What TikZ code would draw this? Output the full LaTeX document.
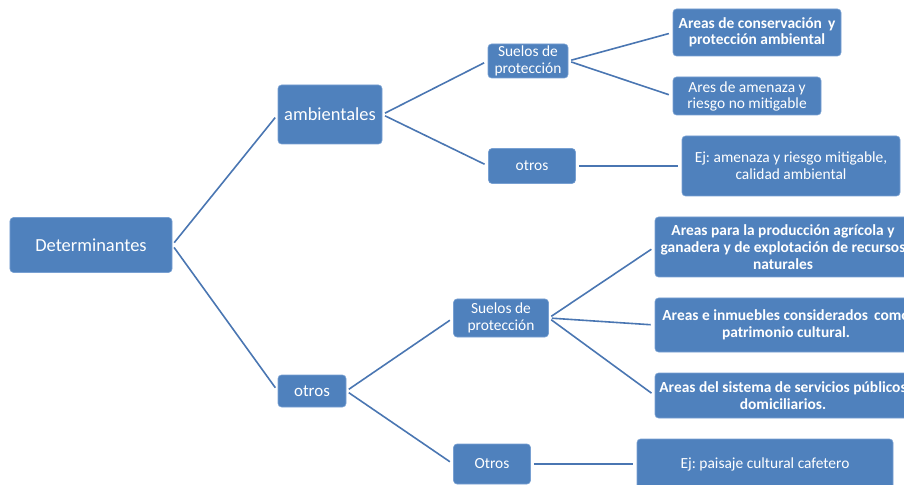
\documentclass[tikz,border=0pt]{standalone}
\usepackage{fontspec}
\setmainfont{Carlito}
\frenchspacing
\definecolor{boxblue}{RGB}{79,129,189}
\definecolor{boxedge}{RGB}{120,160,210}
\definecolor{linkblue}{RGB}{74,118,178}
\begin{document}
\begin{tikzpicture}[x=1bp,y=-1bp,
  box/.style={fill=boxblue,draw=boxedge,line width=0.6bp,rounded corners=3.5bp,text=white,align=center,inner sep=0pt,font=\fontsize{15.5}{17}\selectfont},
  bigbox/.style={box,font=\fontsize{18.5}{21}\selectfont},
  boldbox/.style={box,font=\fontsize{15.5}{17}\selectfont\bfseries},
  link/.style={draw=linkblue,line width=1.6bp,shorten <=3bp,shorten >=4bp}]
\useasboundingbox (0,0) rectangle (904,485);
\clip (0,0) rectangle (904,485);
% level 1
\node[bigbox,minimum width=162bp,minimum height=55bp] (det) at (91,245) {Determinantes};
% level 2
\node[bigbox,minimum width=104bp,minimum height=59bp] (amb) at (330,114.5) {ambientales};
\node[box,font=\fontsize{17}{19}\selectfont,minimum width=68bp,minimum height=32bp] (otr1) at (312,391) {otros};
% level 3
\node[box,minimum width=80bp,minimum height=34bp,font=\fontsize{15.5}{16.5}\selectfont] (sue1) at (528,61) {Suelos de\\protección};
\node[box,minimum width=87bp,minimum height=35bp] (otrA) at (532,166) {otros};
\node[box,minimum width=95bp,minimum height=38bp] (sue2) at (501,318) {Suelos de\\protección};
\node[box,minimum width=77bp,minimum height=40bp] (otrB) at (492,464) {Otros};
% level 4
\node[boldbox,minimum width=168bp,minimum height=47bp,font=\fontsize{15.5}{16.5}\selectfont\bfseries] (r1) at (757,32.5) {Areas de conservación \,y\\protección ambiental};
\node[box,minimum width=148bp,minimum height=38bp,font=\fontsize{15.5}{16}\selectfont] (r2) at (747,96) {Ares de amenaza y\\riesgo no mitigable};
\node[box,minimum width=218bp,minimum height=60bp] (r3) at (791,166) {Ej: amenaza y riesgo mitigable,\\calidad ambiental};
\node[boldbox,minimum width=256bp,minimum height=60bp] (r4) at (783,247) {Areas para la producción agrícola y\\ganadera y de explotación de recursos\\naturales};
\node[boldbox,minimum width=262bp,minimum height=54bp] (r5) at (786,325) {Areas e inmuebles considerados \,como\\patrimonio cultural.};
\node[boldbox,minimum width=256bp,minimum height=45bp] (r6) at (783,395.5) {Areas del sistema de servicios públicos\\domiciliarios.};
\node[box,minimum width=256bp,minimum height=50bp] (r7) at (765,464) {Ej: paisaje cultural cafetero};
% connectors
\draw[link] (det.east) -- (amb.west);
\draw[link] (det.east) -- (otr1.west);
\draw[link] (amb.east) -- (sue1.west);
\draw[link] (amb.east) -- (otrA.west);
\draw[link] (sue1.east) -- (r1.west);
\draw[link] (sue1.east) -- (r2.west);
\draw[link] (otrA.east) -- (r3.west);
\draw[link] (otr1.east) -- (sue2.west);
\draw[link] (otr1.east) -- (otrB.west);
\draw[link] (sue2.east) -- (r4.west);
\draw[link] (sue2.east) -- (r5.west);
\draw[link] (sue2.east) -- (r6.west);
\draw[link] (otrB.east) -- (r7.west);
\end{tikzpicture}
\end{document}
